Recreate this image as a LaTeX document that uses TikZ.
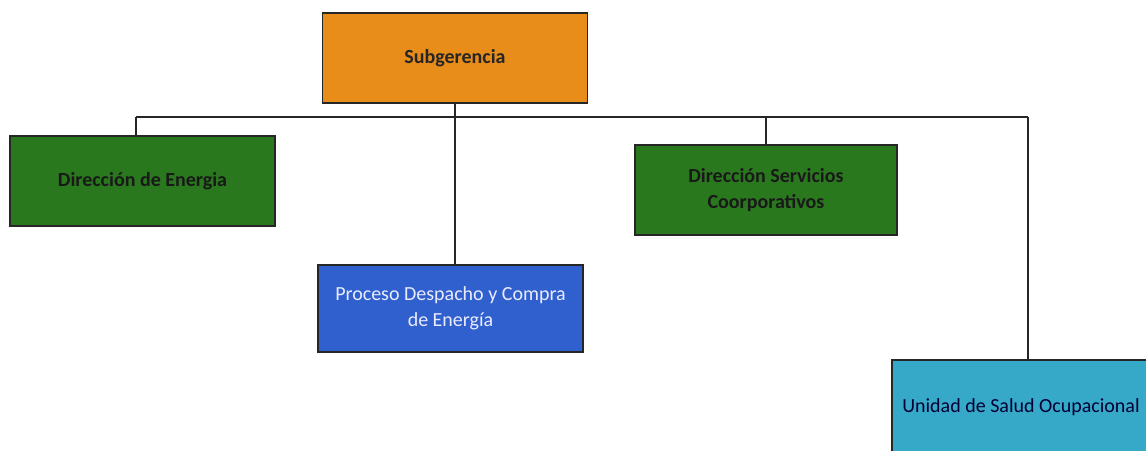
\documentclass[tikz,border=0pt]{standalone}
\usepackage{fontspec}
\setmainfont{Carlito}
\definecolor{subnaranja}{RGB}{232,140,26}
\definecolor{dirverde}{RGB}{42,120,30}
\definecolor{procazul}{RGB}{48,96,205}
\definecolor{unicyan}{RGB}{54,168,200}
\tikzset{
  cargo/.style={draw=black!85, line width=1.5pt, minimum width=265pt,
    minimum height=90pt, align=center, font=\fontsize{20}{26}\selectfont},
  negrita/.style={font=\fontsize{20}{26}\selectfont\bfseries},
  linea/.style={draw=black!85, line width=1.8pt}
}
\begin{document}
\begin{tikzpicture}[x=1pt,y=-1pt]
      \clip (0,0) rectangle (1146,450);
      \fill[white] (0,0) rectangle (1146,450);
      \draw
        (455,58) node[cargo, negrita, fill=subnaranja, text=black!85] (sub){Subgerencia}
        (142.5,181) node[cargo, negrita, fill=dirverde, text=black!90] (energia){Dirección de Energia}
        (450.5,308.5) node[cargo, fill=procazul, minimum height=87pt, text=white!92!blue] (proceso){Proceso Despacho y Compra\\de Energía}
        (766,190) node[cargo, negrita, fill=dirverde, minimum width=262pt, text=black!90] (servicios){Dirección Servicios\\Coorporativos}
        (1021,407) node[cargo, fill=unicyan, minimum width=258pt, minimum height=94pt, text=black!80!blue] (salud){Unidad de Salud Ocupacional};
      \coordinate (busL) at (136,117);
      \coordinate (busR) at (1028,117);
      \begin{scope}[linea]
        \draw (busL) to (busR);
        \draw (busL) to (busL |- energia.north);
        \draw (sub.south) to (sub.south |- proceso.north);
        \draw (servicios.north) to (servicios.north |- busL);
        \draw (busR) to (busR |- salud.north);
      \end{scope}
    \end{tikzpicture}
\end{document}
